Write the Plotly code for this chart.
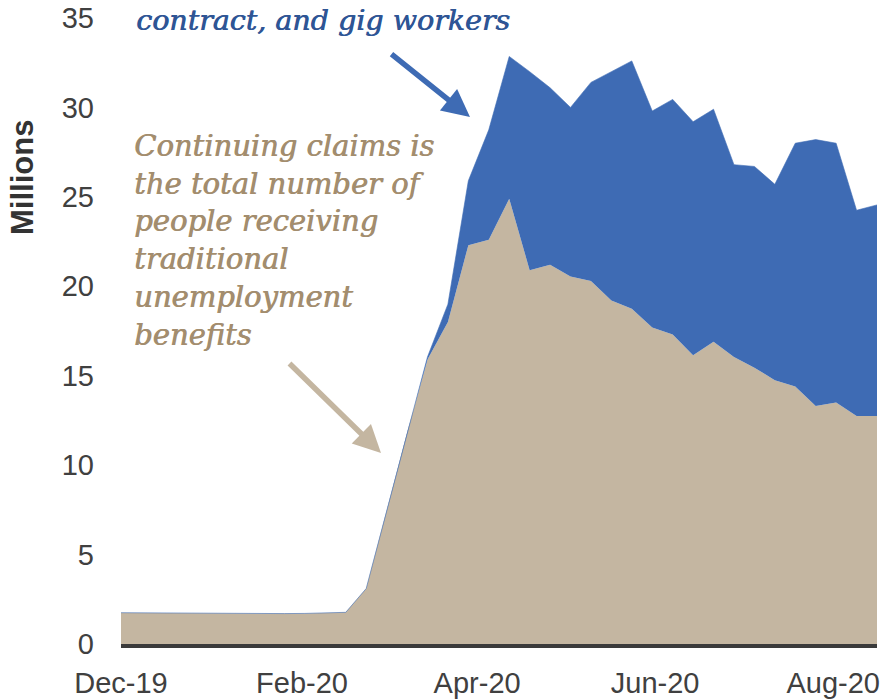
import plotly.graph_objects as go

# ---- data (millions) ----
week_ending = [
    "2019-12-28", "2020-01-04", "2020-01-11", "2020-01-18", "2020-01-25",
    "2020-02-01", "2020-02-08", "2020-02-15", "2020-02-22", "2020-02-29",
    "2020-03-07", "2020-03-14", "2020-03-21", "2020-03-28", "2020-04-04",
    "2020-04-11", "2020-04-18", "2020-04-25", "2020-05-02", "2020-05-09",
    "2020-05-16", "2020-05-23", "2020-05-30", "2020-06-06", "2020-06-13",
    "2020-06-20", "2020-06-27", "2020-07-04", "2020-07-11", "2020-07-18",
    "2020-07-25", "2020-08-01", "2020-08-08", "2020-08-15", "2020-08-22",
    "2020-08-29", "2020-09-05", "2020-09-12",
]
continuing_claims = [
    1.75, 1.74, 1.73, 1.72, 1.73, 1.70, 1.71, 1.72, 1.70, 1.71, 1.72, 1.77,
    3.10, 7.40, 11.80, 15.90, 18.00, 22.30, 22.60, 24.90, 20.90, 21.20,
    20.55, 20.30, 19.20, 18.75, 17.70, 17.30, 16.15, 16.90, 16.05, 15.45,
    14.75, 14.40, 13.30, 13.50, 12.75, 12.75,
]
pua_claims = [
    0, 0, 0, 0, 0, 0, 0, 0, 0, 0, 0, 0, 0, 0, 0,
    0.15, 1.00, 3.60, 6.15, 7.95, 11.10, 9.90, 9.45, 11.10, 12.80, 13.85,
    12.10, 13.15, 13.05, 13.00, 10.75, 11.25, 10.95, 13.60, 14.90, 14.50,
    11.50, 11.80,
]
tick_dates = ["2019-12-28", "2020-02-28", "2020-04-28", "2020-06-28", "2020-08-28"]
tick_labels = ["Dec-19", "Feb-20", "Apr-20", "Jun-20", "Aug-20"]
y_ticks = [0, 5, 10, 15, 20, 25, 30, 35]

TAN = "#C4B6A1"
BLUE = "#3E6BB4"
TAN_TEXT = "#A38D6E"
BLUE_TEXT = "#2E5595"
AXIS_TEXT = "#404040"

# The page places the figure 8px from the top-left corner of the window.
PAGE_OFF = 8
SCREEN_W, SCREEN_H = 888, 699
PLOT_X0, PLOT_X1 = 121, 877   # plot area, in window pixels
PLOT_Y0, PLOT_Y1 = 18, 644

W, H = SCREEN_W - PAGE_OFF, SCREEN_H - PAGE_OFF
L = PLOT_X0 - PAGE_OFF
R = SCREEN_W - PLOT_X1
T = PLOT_Y0 - PAGE_OFF
B = SCREEN_H - PLOT_Y1


def px(x):
    return (x - PLOT_X0) / (PLOT_X1 - PLOT_X0)


def py(y):
    return (PLOT_Y1 - y) / (PLOT_Y1 - PLOT_Y0)


fig = go.Figure()
fig.add_trace(go.Scatter(
    x=week_ending, y=continuing_claims, stackgroup="one", mode="lines",
    line=dict(width=0, color=TAN), fillcolor=TAN, name="Continuing claims",
))
fig.add_trace(go.Scatter(
    x=week_ending, y=pua_claims, stackgroup="one", mode="lines",
    line=dict(width=0.6, color=BLUE), fillcolor=BLUE, name="PUA",
))

serif = "DejaVu Serif, serif"

annotations = [
    dict(xref="paper", yref="paper", x=px(134), y=py(39), xanchor="left", yanchor="bottom",
         text="contract, and gig workers", showarrow=False, align="left",
         font=dict(family=serif, size=28.5, color=BLUE_TEXT, style="italic",
                   shadow="0.7px 0 0 " + BLUE_TEXT)),
    dict(xref="paper", yref="paper", x=px(132), y=py(127), xanchor="left", yanchor="top",
         text="Continuing claims is<br>the total number of<br>people receiving<br>traditional<br>unemployment<br>benefits",
         showarrow=False, align="left",
         font=dict(family=serif, size=29, color=TAN_TEXT, style="italic",
                   shadow="0.7px 0 0 " + TAN_TEXT)),
    # arrows
    dict(xref="paper", yref="paper", x=px(470), y=py(117), axref="pixel", ayref="pixel",
         ax=390 - 470, ay=53 - 117, text="", showarrow=True, arrowhead=2,
         arrowsize=1.0, arrowwidth=5.5, arrowcolor=BLUE, standoff=0),
    dict(xref="paper", yref="paper", x=px(381), y=py(453), axref="pixel", ayref="pixel",
         ax=288 - 381, ay=362 - 453, text="", showarrow=True, arrowhead=2,
         arrowsize=1.0, arrowwidth=5.5, arrowcolor=TAN, standoff=0),
    # y-axis title
    dict(xref="paper", yref="paper", x=px(22), y=py(178), xanchor="center", yanchor="middle",
         text="<b>Millions</b>", showarrow=False, textangle=-90,
         font=dict(family="Liberation Sans, Arial, sans-serif", size=31, color="#333333")),
]

fig.update_layout(
    width=W, height=H, autosize=False,
    margin=dict(l=L, r=R, t=T, b=B, pad=0, autoexpand=False),
    paper_bgcolor="white", plot_bgcolor="white",
    showlegend=False,
    annotations=annotations,
    xaxis=dict(
        type="date", range=[week_ending[0], week_ending[-1]],
        tickvals=tick_dates, ticktext=tick_labels,
        showgrid=False, zeroline=False, automargin=False,
        showline=True, linecolor="#3a3a3a", linewidth=4,
        ticks="", ticklabelstandoff=10, ticklabeloverflow="allow",
        tickfont=dict(family="Liberation Sans, Arial, sans-serif", size=29, color=AXIS_TEXT),
    ),
    yaxis=dict(
        range=[0, 35], tickvals=y_ticks, automargin=False,
        showgrid=False, zeroline=False, showline=False,
        ticks="", ticklabelstandoff=26, ticklabeloverflow="allow",
        tickfont=dict(family="Liberation Sans, Arial, sans-serif", size=29, color=AXIS_TEXT),
    ),
)

fig.write_html("out.html")
